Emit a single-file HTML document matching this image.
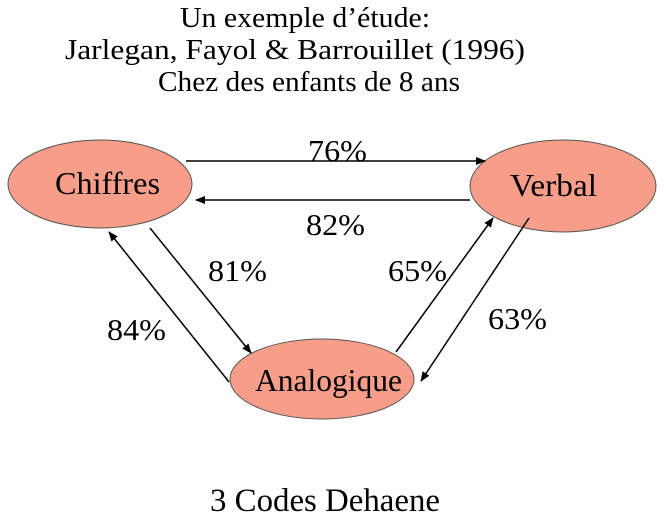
<!DOCTYPE html>
<html><head><meta charset="utf-8"><style>
html,body{margin:0;padding:0;background:#fff;}
svg{display:block;font-family:"Liberation Serif",serif;}
</style></head><body>
<svg width="666" height="532" viewBox="0 0 666 532">
<defs><marker id="a" markerWidth="10" markerHeight="8" refX="9" refY="4" orient="auto" markerUnits="userSpaceOnUse"><path d="M0,0 L10,4 L0,8 Z" fill="#000"/></marker></defs>
<g font-size="28" fill="#000">
<text x="180" y="27" textLength="250" lengthAdjust="spacingAndGlyphs">Un exemple d’étude:</text>
<text x="65" y="59" textLength="460" lengthAdjust="spacingAndGlyphs">Jarlegan, Fayol &amp; Barrouillet (1996)</text>
<text x="158" y="91" textLength="302" lengthAdjust="spacingAndGlyphs">Chez des enfants de 8 ans</text>
</g>
<g fill="#F79E8A" stroke="#555" stroke-width="1">
<ellipse cx="100" cy="184" rx="92" ry="44"/>
<ellipse cx="563" cy="186" rx="93" ry="46"/>
<ellipse cx="322" cy="379" rx="92" ry="40"/>
</g>
<g font-size="32">
<text x="55" y="194" textLength="105" lengthAdjust="spacingAndGlyphs">Chiffres</text>
<text x="510" y="196" textLength="87" lengthAdjust="spacingAndGlyphs">Verbal</text>
<text x="255" y="391" textLength="147" lengthAdjust="spacingAndGlyphs">Analogique</text>
</g>
<g stroke="#000" stroke-width="1.5" marker-end="url(#a)">
<line x1="186" y1="161" x2="485" y2="161"/>
<line x1="470" y1="200" x2="196" y2="200"/>
<line x1="150" y1="228" x2="251" y2="353"/>
<line x1="229" y1="382" x2="109" y2="232"/>
<line x1="396" y1="352" x2="493" y2="218"/>
<line x1="529" y1="218" x2="421" y2="381"/>
</g>
<g font-size="31">
<text x="308" y="161" textLength="59" lengthAdjust="spacingAndGlyphs">76%</text>
<text x="306" y="235" textLength="59" lengthAdjust="spacingAndGlyphs">82%</text>
<text x="208" y="281" textLength="59" lengthAdjust="spacingAndGlyphs">81%</text>
<text x="388" y="281" textLength="59" lengthAdjust="spacingAndGlyphs">65%</text>
<text x="107" y="340" textLength="59" lengthAdjust="spacingAndGlyphs">84%</text>
<text x="488" y="329" textLength="59" lengthAdjust="spacingAndGlyphs">63%</text>
<text x="210" y="511" font-size="33" textLength="230" lengthAdjust="spacingAndGlyphs">3 Codes Dehaene</text>
</g>
</svg>
</body></html>
